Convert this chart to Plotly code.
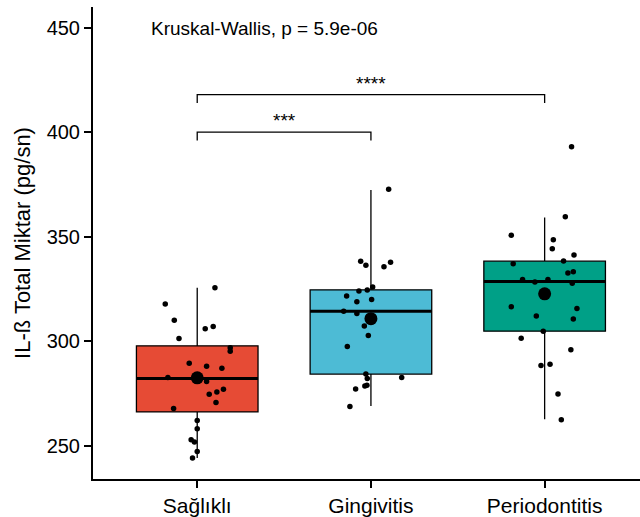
import plotly.graph_objects as go

categories = ["Sağlıklı", "Gingivitis", "Periodontitis"]
cat_pos = [1, 2, 3]
colors = ["#E64B35", "#4DBBD5", "#00A087"]

# box statistics
q1 = [266.2, 284.3, 304.8]
median = [282.2, 314.3, 328.6]
q3 = [297.8, 324.6, 338.3]
lower_whisker = [244.1, 269.0, 262.7]
upper_whisker = [325.6, 372.4, 359.2]
means = [282.5, 310.8, 322.7]

# jittered observations (x = jittered category position, y = value)
saglikli_x = [1.102, 0.816, 0.868, 1.092, 1.046, 0.895, 1.19, 1.19, 0.954, 1.054, 1.142, 0.831,
              1.054, 1.151, 1.113, 1.069, 1.108, 0.864, 1.0, 1.0, 0.965, 0.984, 1.0, 0.973]
saglikli_y = [325.6, 317.8, 310.0, 307.1, 306.0, 301.3, 296.9, 295.2, 289.5, 288.0, 287.1, 282.7,
              280.8, 277.0, 275.7, 274.6, 270.7, 267.8, 262.1, 258.1, 252.9, 251.8, 247.3, 244.1]
gingivitis_x = [2.102, 1.941, 1.971, 2.113, 2.075, 2.010, 1.931, 1.979, 1.860, 2.004, 1.919, 1.843,
                1.919, 1.962, 1.985, 1.864, 1.971, 1.979, 2.177, 1.977, 1.965, 1.912, 1.879]
gingivitis_y = [372.7, 338.3, 336.4, 337.8, 335.6, 325.9, 324.0, 324.5, 321.6, 320.0, 318.9, 314.3,
                313.3, 307.3, 302.7, 297.5, 284.3, 282.2, 282.6, 279.0, 278.6, 277.1, 268.8]
periodontitis_x = [3.155, 3.119, 2.808, 3.050, 3.044, 3.169, 3.109, 2.819, 3.134, 3.165, 2.873, 2.944,
                   3.019, 3.159, 2.808, 3.186, 2.952, 3.165, 2.992, 2.865, 3.151, 2.979, 3.031, 3.077, 3.096]
periodontitis_y = [393.0, 359.5, 350.7, 348.6, 344.3, 341.3, 338.4, 337.1, 332.6, 333.3, 329.5, 328.3,
                   329.5, 327.8, 316.5, 315.7, 312.1, 310.7, 304.8, 301.4, 295.9, 288.4, 289.0, 274.8, 262.4]

points_x = [saglikli_x, gingivitis_x, periodontitis_x]
points_y = [saglikli_y, gingivitis_y, periodontitis_y]

# comparison brackets
bracket_pairs = [(1, 2), (1, 3)]
bracket_y = [400.0, 418.0]
bracket_labels = ["***", "****"]
bracket_tick = 4.0
kw_text = "Kruskal-Wallis, p = 5.9e-06"

y_ticks = [250, 300, 350, 400, 450]

FONT = "Liberation Sans, Arial, sans-serif"

fig = go.Figure()

for i in range(3):
    fig.add_trace(go.Box(
        x=[cat_pos[i]], q1=[q1[i]], median=[median[i]], q3=[q3[i]],
        lowerfence=[lower_whisker[i]], upperfence=[upper_whisker[i]],
        width=0.7, fillcolor=colors[i], line=dict(color="black", width=1.3),
        whiskerwidth=0, boxpoints=False, showlegend=False, hoverinfo="skip",
    ))
    fig.add_trace(go.Scatter(
        x=[cat_pos[i] - 0.35, cat_pos[i] + 0.35], y=[median[i], median[i]],
        mode="lines", line=dict(color="black", width=3), showlegend=False, hoverinfo="skip",
    ))

for i in range(3):
    fig.add_trace(go.Scatter(
        x=points_x[i], y=points_y[i], mode="markers",
        marker=dict(color="black", size=5.5), showlegend=False,
    ))
    fig.add_trace(go.Scatter(
        x=[cat_pos[i]], y=[means[i]], mode="markers",
        marker=dict(color="black", size=13), showlegend=False,
    ))

for (a, b), yb, lab in zip(bracket_pairs, bracket_y, bracket_labels):
    fig.add_trace(go.Scatter(
        x=[a, a, b, b], y=[yb - bracket_tick, yb, yb, yb - bracket_tick],
        mode="lines", line=dict(color="black", width=1.3), showlegend=False, hoverinfo="skip",
    ))
    fig.add_annotation(x=(a + b) / 2, y=yb - 0.5, text=lab, showarrow=False,
                       xanchor="center", yanchor="bottom",
                       font=dict(family=FONT, size=19, color="black"))

fig.add_annotation(x=0.724, y=449.4, text=kw_text, showarrow=False,
                   xanchor="left", yanchor="middle",
                   font=dict(family=FONT, size=19, color="black"))

fig.update_layout(
    width=640, height=517,
    margin=dict(l=93, r=0, t=7, b=36),
    paper_bgcolor="white", plot_bgcolor="white",
    font=dict(family=FONT, color="black"),
    showlegend=False,
)
fig.update_xaxes(
    range=[0.4, 3.549], tickmode="array", tickvals=cat_pos, ticktext=categories,
    showline=True, linecolor="black", linewidth=2, ticks="outside", ticklen=7,
    tickwidth=2, tickcolor="black", showgrid=False, zeroline=False,
    tickfont=dict(family=FONT, size=21, color="black"),
)
fig.update_yaxes(
    range=[234.1, 459.9], tickmode="array", tickvals=y_ticks,
    showline=True, linecolor="black", linewidth=2, ticks="outside", ticklen=7,
    tickwidth=2, tickcolor="black", showgrid=False, zeroline=False,
    tickfont=dict(family=FONT, size=20, color="black"),
    title=dict(text="IL-ß Total Miktar (pg/sn)", standoff=10,
               font=dict(family=FONT, size=22, color="black")),
)

fig.write_html("out.html",
               config={"displayModeBar": False},
               post_script="document.body.style.margin='0';document.body.style.overflow='hidden';")
